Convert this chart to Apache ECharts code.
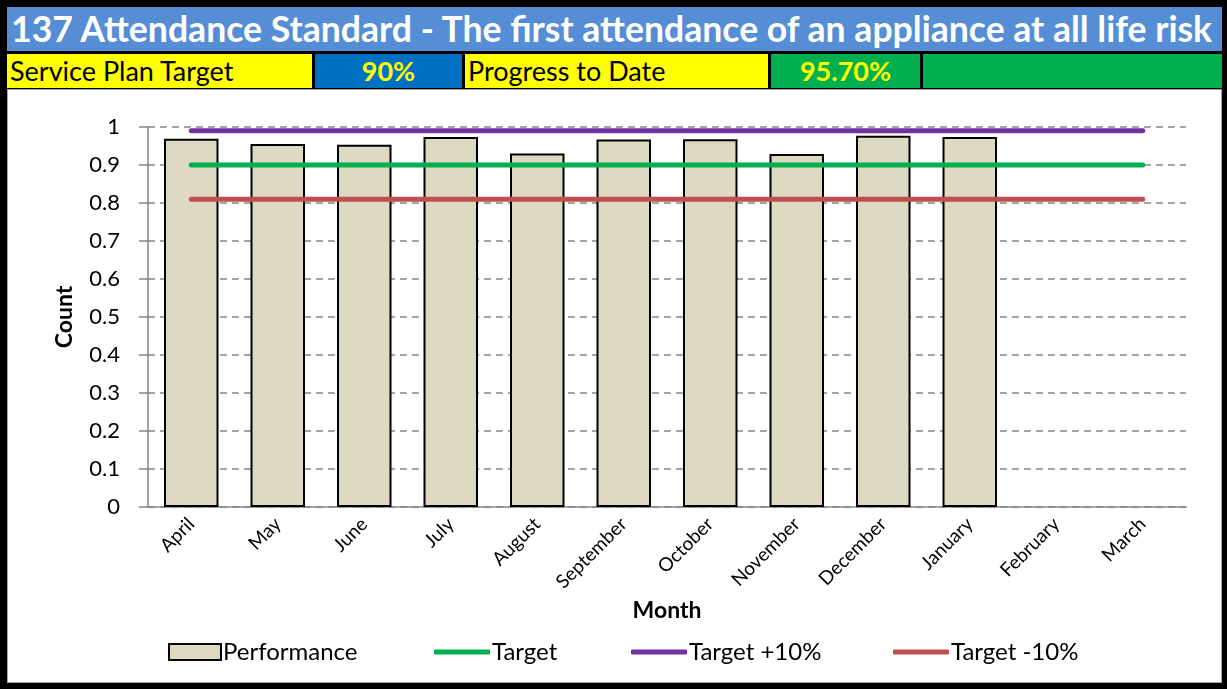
<!DOCTYPE html>
<html>
<head>
<meta charset="utf-8">
<script src="https://cdn.jsdelivr.net/npm/echarts@6/dist/echarts.min.js"></script>
<style>
  html, body { margin: 0; padding: 0; }
  body { width: 1227px; height: 689px; background: #000; position: relative; overflow: hidden; font-family: Lato, "Open Sans", sans-serif; }
  .cell { position: absolute; box-sizing: border-box; white-space: nowrap; }
  #title { left: 7px; top: 7px; width: 1215px; height: 44px; background: #558ed5; color: #fff; font-weight: bold; font-size: 35.6px; line-height: 44px; padding-left: 4px; }
  .row2 { top: 54px; height: 34px; line-height: 34px; font-size: 27px; }
  .yellow { background: #ffff00; color: #000; padding-left: 3px; }
  .val { text-align: center; color: #ffff00; font-weight: bold; }
  #chart { position: absolute; left: 7px; top: 89px; width: 1215px; height: 594px; background: #fff; border: 1px solid #a6a6a6; box-sizing: border-box; }
</style>
</head>
<body>
<div class="cell" id="title">137 Attendance Standard - The first attendance of an appliance at all life risk</div>
<div class="cell row2 yellow" style="left:7px;width:305px;">Service Plan Target</div>
<div class="cell row2 val" style="left:315px;width:147px;background:#0070c0;">90%</div>
<div class="cell row2 yellow" style="left:465px;width:303px;">Progress to Date</div>
<div class="cell row2 val" style="left:771px;width:149px;background:#00b050;">95.70%</div>
<div class="cell row2" style="left:923px;width:299px;background:#00b050;"></div>
<div id="chart"></div>
<script>
var months = ['April', 'May', 'June', 'July', 'August', 'September', 'October', 'November', 'December', 'January', 'February', 'March'];
var performance = [0.969, 0.955, 0.953, 0.974, 0.930, 0.967, 0.968, 0.929, 0.977, 0.974, null, null];
var target = [0.9, 0.9, 0.9, 0.9, 0.9, 0.9, 0.9, 0.9, 0.9, 0.9, 0.9, 0.9];
var targetUp = [0.99, 0.99, 0.99, 0.99, 0.99, 0.99, 0.99, 0.99, 0.99, 0.99, 0.99, 0.99];
var targetDown = [0.81, 0.81, 0.81, 0.81, 0.81, 0.81, 0.81, 0.81, 0.81, 0.81, 0.81, 0.81];

var font = 'Lato';
var ec = echarts.init(document.getElementById('chart'));

// one legend per item so each sits where the original has it
function legendAt(left, name, isLine) {
    return {
        left: left,
        top: 545,
        itemWidth: isLine ? 56 : 52,
        itemHeight: isLine ? 5 : 16,
        itemGap: 0,
        data: [{ name: name, icon: isLine ? 'roundRect' : 'rect' }],
        textStyle: { color: '#000', fontSize: 24, fontFamily: font, padding: [0, 0, 0, -3] }
    };
}

var option = {
    backgroundColor: '#fff',
    animation: false,
    grid: {
        left: 140,
        top: 37,
        right: 35,
        height: 380
    },
    legend: [
        legendAt(155, 'Performance'),
        legendAt(421, 'Target', true),
        legendAt(618, 'Target +10%', true),
        legendAt(880, 'Target -10%', true)
    ],
    xAxis: {
        type: 'category',
        data: months,
        name: 'Month',
        nameLocation: 'middle',
        nameGap: 87,
        nameTextStyle: { color: '#000', fontSize: 23, fontWeight: 'bold', fontFamily: font },
        axisLine: { lineStyle: { color: '#868686', width: 1.5 } },
        axisTick: { length: 6, lineStyle: { color: '#868686', width: 1.5 } },
        axisLabel: { rotate: 45, color: '#000', fontSize: 19, fontFamily: font, margin: 14 }
    },
    yAxis: {
        type: 'value',
        min: 0,
        max: 1,
        interval: 0.1,
        name: 'Count',
        nameLocation: 'middle',
        nameGap: 72,
        nameTextStyle: { color: '#000', fontSize: 23, fontWeight: 'bold', fontFamily: font },
        axisLine: { show: true, lineStyle: { color: '#868686', width: 1.5 } },
        axisTick: { show: true, length: 9, lineStyle: { color: '#868686', width: 1.5 } },
        axisLabel: { color: '#000', fontSize: 22, fontFamily: font, margin: 28 },
        splitLine: { lineStyle: { color: '#868686', width: 1.5, type: [7, 5] } }
    },
    series: [{
        name: 'Performance',
        type: 'bar',
        data: performance,
        barWidth: '63%',
        itemStyle: { color: '#ddd9c3', borderColor: '#000', borderWidth: 2 }
    }, {
        name: 'Target',
        type: 'line',
        data: target,
        symbol: 'none',
        lineStyle: { color: '#00b050', width: 5, cap: 'round' },
        itemStyle: { color: '#00b050' }
    }, {
        name: 'Target +10%',
        type: 'line',
        data: targetUp,
        symbol: 'none',
        lineStyle: { color: '#7030a0', width: 5, cap: 'round' },
        itemStyle: { color: '#7030a0' }
    }, {
        name: 'Target -10%',
        type: 'line',
        data: targetDown,
        symbol: 'none',
        lineStyle: { color: '#c0504d', width: 5, cap: 'round' },
        itemStyle: { color: '#c0504d' }
    }]
};
ec.setOption(option);
</script>
</body>
</html>
